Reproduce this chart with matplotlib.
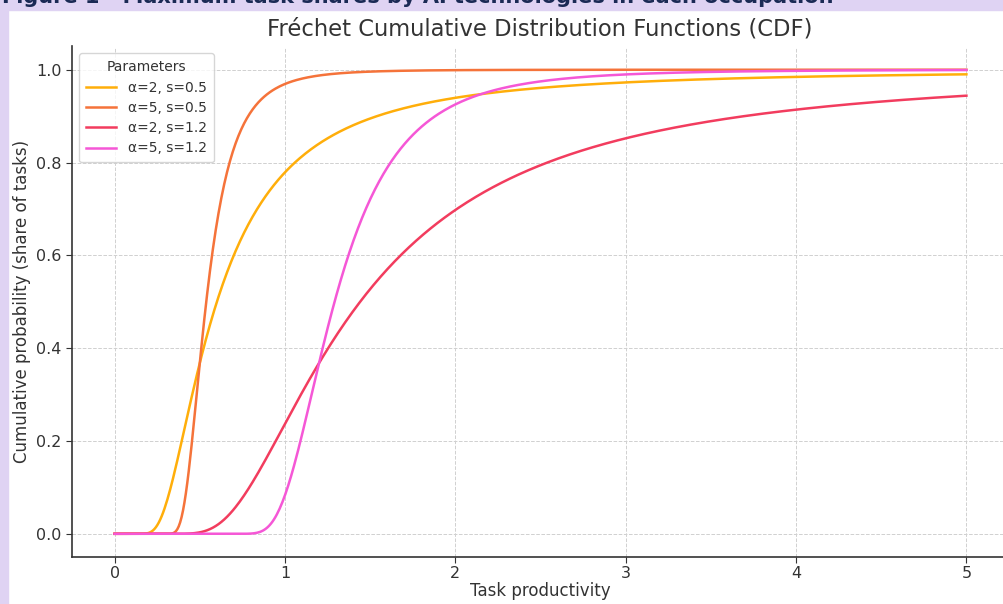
import numpy as np
import matplotlib as mpl
from matplotlib import pyplot as plt

# Fréchet CDF parameters shown in the legend
alphas = [2, 5, 2, 5]
scales = [0.5, 0.5, 1.2, 1.2]
labels = ["α=2, s=0.5", "α=5, s=0.5", "α=2, s=1.2", "α=5, s=1.2"]
colors = ["#FFAE0A", "#F5733A", "#F23C5E", "#F557D6"]

x_ticks = [0, 1, 2, 3, 4, 5]
y_ticks = [0.0, 0.2, 0.4, 0.6, 0.8, 1.0]

mpl.rcParams["font.family"] = "DejaVu Sans"

W, H = 1004, 604
fig = plt.figure(figsize=(W / 100, H / 100), dpi=100)
fig.patch.set_facecolor("white")

# lavender frame of the screenshot (top band + left band)
band = "#DFD3F3"
fig.add_artist(plt.Rectangle((0, 1 - 10 / H), 1, 10 / H, transform=fig.transFigure,
                             color=band, zorder=0))
fig.add_artist(plt.Rectangle((0, 0), 8 / W, 1, transform=fig.transFigure,
                             color=band, zorder=0))
# caption of the page, cut off by the screenshot
fig.text(2 / W, 1 - 3 / H,
         "Figure 1 - Maximum task shares by AI technologies in each occupation",
         fontsize=15, fontweight="bold", color="#1B2A55", va="baseline", ha="left")

left, right, top, bottom = 72, 1009, 46.5, 557
ax = fig.add_axes([left / W, (H - bottom) / H, (right - left) / W, (bottom - top) / H])

xs = np.linspace(1e-3, 5, 600)
for a, s, lab, col in zip(alphas, scales, labels, colors):
    cdf = np.exp(-(xs / s) ** (-a))
    ax.plot(np.r_[0, xs], np.r_[0, cdf], color=col, lw=1.8, label=lab)

ax.set_xlim(-0.25, 5.25)
ax.set_ylim(-0.05, 1.05)
ax.set_xticks(x_ticks)
ax.set_yticks(y_ticks)
ax.tick_params(labelsize=11.5, colors="#333333", length=4)
ax.tick_params(axis="x", pad=2.5)
ax.grid(True, linestyle="--", color="#D0D0D0", lw=0.7)
ax.set_axisbelow(True)
for side in ["top", "right"]:
    ax.spines[side].set_visible(False)
for side in ["left", "bottom"]:
    ax.spines[side].set_color("#333333")
    ax.spines[side].set_linewidth(1.2)

fig.text(540 / W, 1 - 29 / H, "Fréchet Cumulative Distribution Functions (CDF)",
         fontsize=16.3, color="#333333", ha="center", va="center")
ax.set_xlabel("Task productivity", fontsize=12, color="#333333", labelpad=1)
ax.set_ylabel("Cumulative probability (share of tasks)", fontsize=12, color="#333333")

leg = ax.legend(title="Parameters", loc="upper left", fontsize=10, title_fontsize=10,
                frameon=True, handlelength=2.2, borderpad=0.5, labelspacing=0.45)
leg.get_frame().set_edgecolor("#CCCCCC")
for t in leg.get_texts():
    t.set_color("#333333")
leg.get_title().set_color("#333333")

fig.savefig("out.png", dpi=100)
